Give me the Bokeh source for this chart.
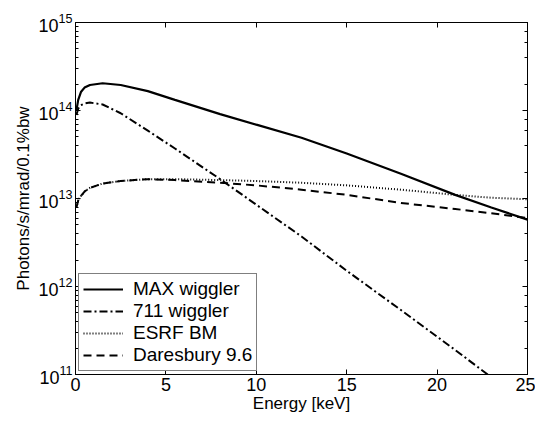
from bokeh.plotting import figure
from bokeh.models import LogAxis, LinearAxis, Legend, LegendItem, FixedTicker, Range1d
from bokeh.embed import file_html
from bokeh.resources import INLINE

# Energy grid [keV]
energy = [0.05, 0.15, 0.3, 0.5, 0.8, 1.5, 2.5, 4, 5.5, 8, 10, 12.5, 15, 18, 21, 23, 25]

# Photons/s/mrad/0.1%bw
max_wiggler = [1.00e14, 1.32e14, 1.62e14, 1.82e14, 1.95e14, 2.04e14, 1.95e14, 1.66e14, 1.32e14,
               9.1e13, 6.9e13, 4.9e13, 3.24e13, 1.91e13, 1.10e13, 7.9e12, 5.75e12]
w711 = [8.9e13, 1.05e14, 1.15e14, 1.20e14, 1.23e14, 1.17e14, 9.3e13, 5.9e13, 3.7e13,
        1.66e13, 8.5e12, 3.7e12, 1.51e12, 5.4e11, 1.9e11, 9.3e10, 4.7e10]
esrf_bm = [7.9e12, 9.5e12, 1.07e13, 1.20e13, 1.32e13, 1.48e13, 1.58e13, 1.66e13, 1.66e13,
           1.62e13, 1.58e13, 1.51e13, 1.41e13, 1.26e13, 1.10e13, 1.02e13, 9.8e12]
daresbury = [7.9e12, 9.5e12, 1.07e13, 1.20e13, 1.32e13, 1.48e13, 1.58e13, 1.66e13, 1.62e13,
             1.51e13, 1.41e13, 1.26e13, 1.10e13, 8.9e12, 7.6e12, 6.8e12, 6.0e12]

labels = ["MAX wiggler", "711 wiggler", "ESRF BM", "Daresbury 9.6"]
x_ticks = [0, 5, 10, 15, 20, 25]

FONT = "Liberation Sans"

p = figure(width=535, height=415, y_axis_type="log",
           x_range=Range1d(0, 25), y_range=Range1d(1e11, 1e15),
           output_backend="svg", toolbar_location=None,
           min_border_left=75, min_border_right=8, min_border_top=22, min_border_bottom=38)
p.background_fill_color = "white"
p.border_fill_color = "white"
p.outline_line_color = "black"
p.outline_line_width = 1
p.grid.visible = False

r1 = p.line(energy, max_wiggler, line_color="black", line_width=2.2)
r2 = p.line(energy, w711, line_color="black", line_width=2, line_dash="8 3 2 3")
r3 = p.line(energy, esrf_bm, line_color="black", line_width=2, line_dash="1 2")
r4 = p.line(energy, daresbury, line_color="black", line_width=2, line_dash="8 5")

def style(ax, labels_on=True):
    ax.major_tick_in = 5
    ax.major_tick_out = 0
    ax.minor_tick_in = 3
    ax.minor_tick_out = 0
    ax.axis_line_color = "black"
    ax.major_tick_line_color = "black"
    ax.minor_tick_line_color = "black"
    ax.major_label_text_font = FONT
    ax.major_label_text_font_size = "18px"
    ax.major_label_text_color = "black"
    ax.axis_label_text_font = FONT
    ax.axis_label_text_font_size = "17px"
    ax.axis_label_text_font_style = "normal"
    ax.axis_label_text_color = "black"
    if not labels_on:
        ax.major_label_text_font_size = "0px"
        ax.major_label_text_color = None

xa = p.xaxis[0]
style(xa)
xa.ticker = FixedTicker(ticks=x_ticks)
xa.minor_tick_line_color = None
xa.axis_label = "Energy [keV]"
xa.axis_label_standoff = 0
xa.major_label_standoff = 3

ya = p.yaxis[0]
style(ya)
ya.axis_label = "Photons/s/mrad/0.1%bw"
ya.axis_label_standoff = 2
ya.major_label_standoff = 3

top = LinearAxis(ticker=FixedTicker(ticks=x_ticks))
style(top, False)
top.minor_tick_line_color = None
p.add_layout(top, "above")

right = LogAxis()
style(right, False)
p.add_layout(right, "right")

legend = Legend(items=[LegendItem(label=labels[0], renderers=[r1]),
                       LegendItem(label=labels[1], renderers=[r2]),
                       LegendItem(label=labels[2], renderers=[r3]),
                       LegendItem(label=labels[3], renderers=[r4])],
                location="bottom_left")
legend.label_text_font = FONT
legend.label_text_font_size = "19px"
legend.label_text_color = "black"
legend.border_line_color = "black"
legend.border_line_width = 1
legend.glyph_width = 40
legend.glyph_height = 20
legend.label_height = 20
legend.spacing = 0
legend.padding = 4
legend.margin = 3
legend.label_standoff = 10
legend.background_fill_alpha = 1
p.add_layout(legend, "center")

open("out.html", "w").write(file_html(p, INLINE))
